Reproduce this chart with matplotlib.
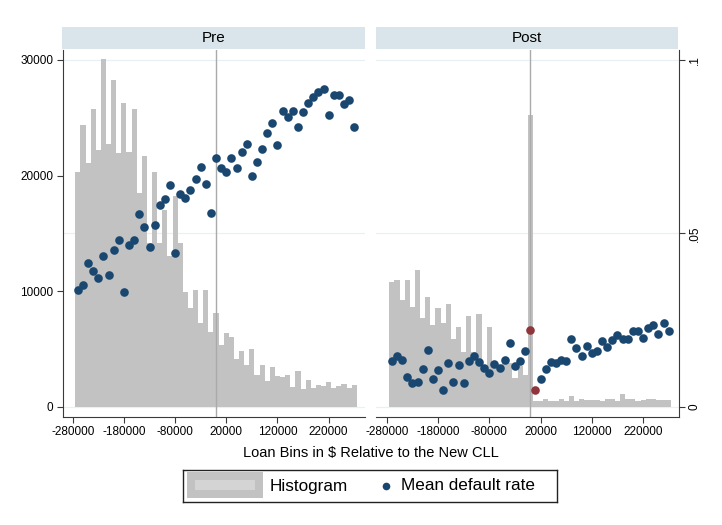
# HISTOGRAMA + TAXA MEDIA DE DEFAULT, ANTES E DEPOIS DO NOVO CLL

import numpy as np
import matplotlib.pyplot as plt
from matplotlib.patches import Rectangle

plt.rcParams['font.family'] = ['Liberation Sans', 'DejaVu Sans']

# DADOS

bin_centers = np.arange(-270000, 280000, 10000)
bin_edges = np.arange(-275000, 285000, 10000)

pre_counts = [20340, 24350, 21120, 25750, 22200, 30090, 22750, 28250, 21950, 26250,
              22000, 25800, 18450, 21700, 14200, 20350, 14200, 17000, 13000, 18200,
              14200, 9950, 8500, 10100, 7250, 10100, 6500, 8100, 5350, 6400,
              6000, 4100, 4850, 3600, 5000, 2700, 3650, 2250, 3450, 2650,
              2600, 2700, 1700, 3100, 1550, 2300, 1600, 1850, 1800, 2150,
              1650, 1750, 1950, 1650, 1900]

pre_rate = [.0336, .0350, .0415, .0392, .0372, .0434, .0381, .0451, .0480, .0331,
            .0467, .0480, .0557, .0517, .0461, .0523, .0581, .0598, .0638, .0444,
            .0614, .0603, .0626, .0657, .0691, .0641, .0558, .0717, .0689, .0676,
            .0717, .0689, .0734, .0758, .0664, .0705, .0744, .0789, .0817, .0755,
            .0854, .0837, .0854, .0806, .0849, .0875, .0894, .0907, .0916, .0840,
            .0900, .0900, .0873, .0886, .0806]

post_counts = [10800, 10950, 9200, 11000, 8650, 11800, 7700, 9450, 7050, 8500,
               7200, 8850, 5900, 6900, 4750, 7850, 4750, 8000, 3600, 6900,
               3750, 3600, 4050, 3750, 2450, 3500, 2750, 25250, 500, 450,
               700, 500, 500, 650, 500, 950, 500, 650, 550, 600,
               550, 500, 650, 700, 500, 1100, 650, 700, 500, 550,
               650, 650, 600, 600, 600]

post_rate = [.0132, .0146, .0136, .0087, .0067, .0072, .0109, .0164, .0081, .0106,
             .0048, .0125, .0072, .0120, .0067, .0133, .0146, .0129, .0112, .0098,
             .0124, .0111, .0136, .0184, .0118, .0132, .0161, .0221, .0048, .0079,
             .0109, .0128, .0126, .0134, .0132, .0195, .0170, .0146, .0176, .0156,
             .0161, .0189, .0173, .0192, .0206, .0194, .0194, .0218, .0218, .0197,
             .0227, .0235, .0209, .0240, .0218]

# bins logo no novo limite, marcados em vermelho no painel Post
destaque_bins = [0, 10000]

x_ticks = [-280000, -180000, -80000, 20000, 120000, 220000]
count_ticks = [0, 10000, 20000, 30000]
rate_ticks = [0, .05, .1]
rate_labels = ['0', '.05', '.1']

# CORES

cinza_barra = '#c2c2c2'
azul = '#1a476f'
vermelho = '#90353b'
faixa = '#d9e5ea'
grade = '#e8f0f3'
eixo = '#3a3a3a'

count_lim = (-865, 30866)
rate_lim = (count_lim[0] / 30000 * .1, count_lim[1] / 30000 * .1)

fig = plt.figure(figsize=(7.22, 5.25), dpi=100)

paineis = [
    ('Pre', pre_counts, pre_rate, [63 / 722, 0.2063, 302 / 722, 0.6985], (-299000, 291000)),
    ('Post', post_counts, post_rate, [376 / 722, 0.2063, 303 / 722, 0.6985], (-301000, 290000)),
]

for k, (nome, counts, rate, pos, xlim) in enumerate(paineis):
    ax = fig.add_axes(pos)
    ax.set_xlim(*xlim)
    ax.set_ylim(*count_lim)

    # linhas de grade seguem a escala da taxa (0, .05, .1)
    for r in rate_ticks:
        ax.axhline(r / .1 * 30000, color=grade, lw=0.9, zorder=0)

    ax.stairs(counts, bin_edges, fill=True, color=cinza_barra, lw=0, zorder=1)
    ax.axvline(0, color='#aaaaaa', lw=1, zorder=2)

    ax.set_xticks(x_ticks)
    ax.set_xticklabels([str(t) for t in x_ticks])
    ax.tick_params(axis='x', length=4.5, width=0.8, color=eixo, labelsize=8.5, pad=2.5)

    for s in ['top', 'right']:
        ax.spines[s].set_visible(False)
    ax.spines['bottom'].set_color(eixo)
    ax.spines['bottom'].set_linewidth(0.8)

    ax2 = ax.twinx()
    ax2.set_ylim(*rate_lim)
    ax2.patch.set_visible(False)
    for s in ['top', 'left', 'bottom', 'right']:
        ax2.spines[s].set_visible(False)

    if k == 0:
        ax.set_yticks(count_ticks)
        ax.set_yticklabels([str(t) for t in count_ticks])
        ax.tick_params(axis='y', length=4.5, width=0.8, color=eixo, labelsize=8.5, pad=2.5)
        ax.spines['left'].set_color(eixo)
        ax.spines['left'].set_linewidth(0.8)
        ax2.set_yticks([])
        ax2.plot(bin_centers, rate, 'o', color=azul, ms=6.2, mec='none', zorder=3)
    else:
        ax.spines['left'].set_visible(False)
        ax.set_yticks([])
        ax2.spines['right'].set_visible(True)
        ax2.spines['right'].set_color(eixo)
        ax2.spines['right'].set_linewidth(0.8)
        ax2.set_yticks(rate_ticks)
        ax2.set_yticklabels(rate_labels, rotation=90, va='center')
        ax2.tick_params(axis='y', length=4.5, width=0.8, color=eixo, labelsize=8.5, pad=2.5)
        rate = np.array(rate)
        marca = np.isin(bin_centers, destaque_bins)
        ax2.plot(bin_centers[~marca], rate[~marca], 'o', color=azul, ms=6.2, mec='none', zorder=3)
        ax2.plot(bin_centers[marca], rate[marca], 'o', color=vermelho, ms=6.2, mec='none', zorder=3)

    # faixa do titulo do painel
    sx = pos[0] if k == 1 else 62 / 722
    sw = 302 / 722 if k == 1 else 303 / 722
    fig.patches.append(Rectangle((sx, 0.9061), sw, 0.043, transform=fig.transFigure,
                                 facecolor=faixa, edgecolor='none'))
    fig.text(sx + sw / 2, 0.9061 + 0.0215, nome, ha='center', va='center', fontsize=11)

fig.text(0.513, 1 - 453 / 525, r'Loan Bins in \$ Relative to the New CLL',
         ha='center', va='center', fontsize=10.5)

# LEGENDA

leg = fig.add_axes([183 / 722, 1 - 502 / 525, 374 / 722, 32 / 525])
leg.set_xlim(0, 374)
leg.set_ylim(0, 32)
leg.set_xticks([])
leg.set_yticks([])
for s in leg.spines.values():
    s.set_color('#222222')
    s.set_linewidth(1)
leg.add_patch(Rectangle((4, 4), 76, 26, facecolor=cinza_barra, edgecolor='none'))
leg.add_patch(Rectangle((12, 12), 60, 10, facecolor='#d4d4d4', edgecolor='none'))
leg.text(87, 16, 'Histogram', va='center', ha='left', fontsize=12.3)
leg.plot([203], [16.5], 'o', color=azul, ms=5.5, mec='none')
leg.text(218, 16, 'Mean default rate', va='center', ha='left', fontsize=12.3)

plt.savefig('out.png', dpi=100)
